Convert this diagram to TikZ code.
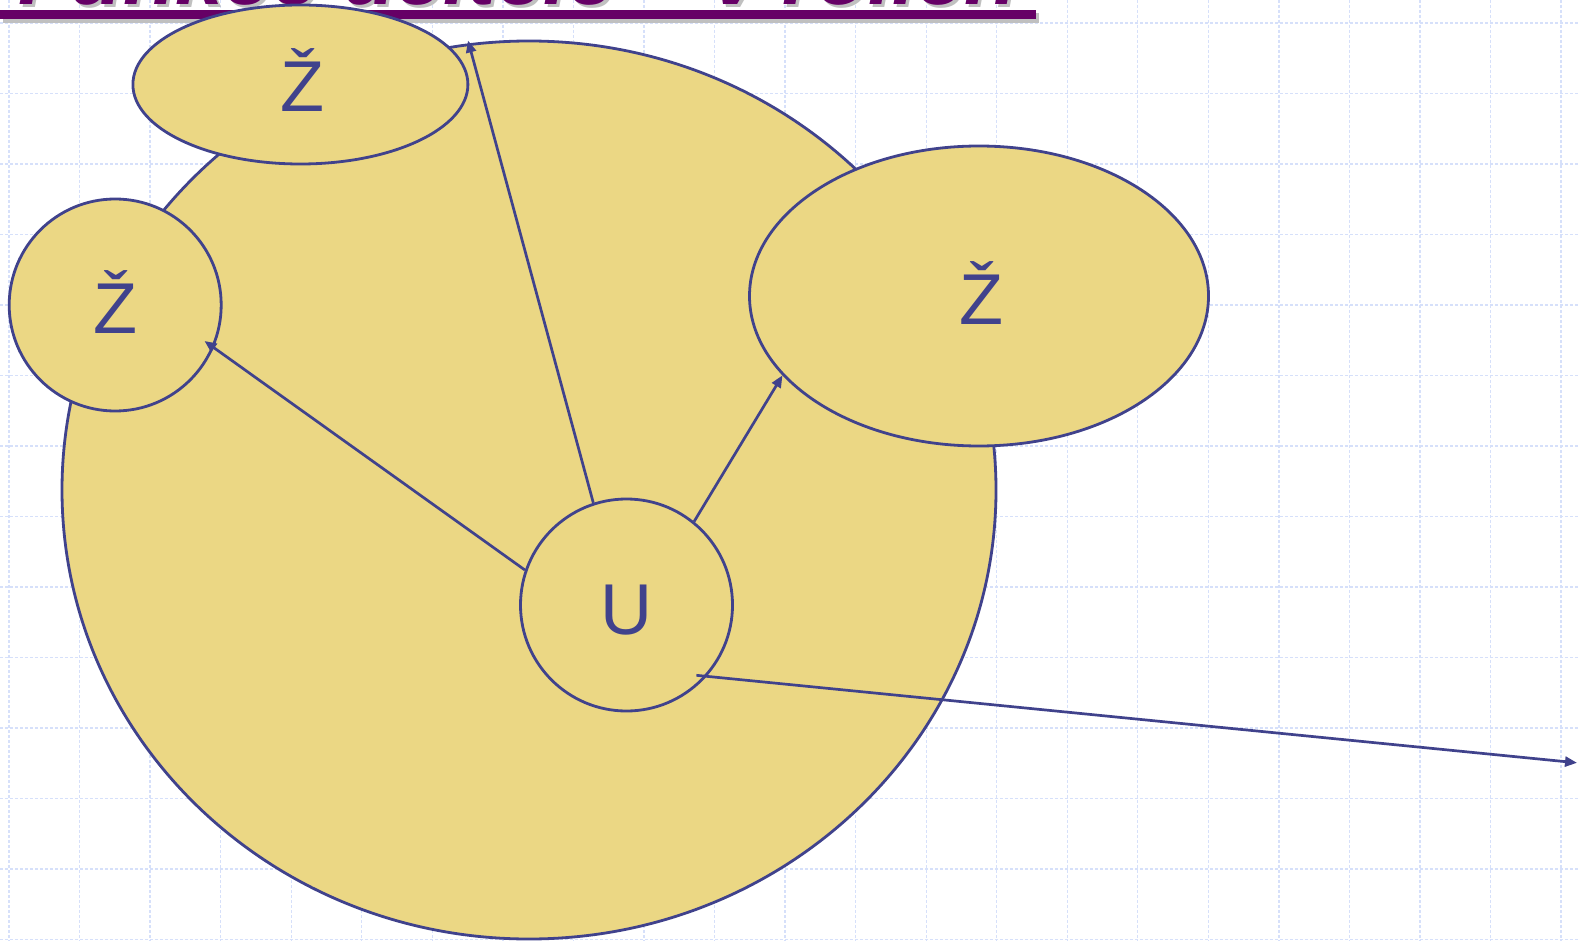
\documentclass[tikz,border=0pt]{standalone}
\usepackage{fontspec}
\setmainfont{Liberation Sans}
\usetikzlibrary{shapes.geometric,arrows.meta}
\definecolor{lineblue}{RGB}{64,66,140}
\definecolor{fillyel}{RGB}{235,215,132}
\definecolor{gridblue}{RGB}{214,224,250}
\definecolor{titlepurple}{RGB}{102,0,102}
\definecolor{shadowgray}{RGB}{192,192,192}
\tikzset{
 blob/.style={ellipse, draw=lineblue, fill=fillyel, line width=2.8pt, inner sep=0pt},
 lbl/.style={anchor=base, text=lineblue, font=\fontsize{72}{72}\selectfont, inner sep=0pt},
 conn/.style={draw=lineblue, line width=2.7pt, -{Triangle[length=12pt,width=10pt]}},
 gridline/.style={draw=gridblue, line width=1.3pt, dash pattern=on 3pt off 2pt},
 titletext/.style={anchor=base west, inner sep=0pt, font=\fontsize{86}{86}\selectfont\bfseries\itshape},
}
\begin{document}
\begin{tikzpicture}[x=1pt,y=-1pt]
\useasboundingbox (0,0) rectangle (1578,941);
\clip (0,0) rectangle (1578,941);
\fill[white] (0,0) rectangle (1578,941);
\foreach \i in {0,...,22} { \draw[gridline] ({9+70.55*\i},0) -- ({9+70.55*\i},941); }
\foreach \j in {0,...,13} { \draw[gridline] (0,{23+70.5*\j}) -- (1578,{23+70.5*\j}); }
% title
\fill[shadowgray] (3,13) rectangle (1039,23);
\fill[titlepurple] (0,10) rectangle (1036,19.5);
\node[titletext, text=shadowgray] (titleshadow) at (21,7.5) {Funkce učitele – v rolích};
\node[titletext, text=titlepurple] (title) at (18,5) {Funkce učitele – v rolích};
% shapes
\node[blob, minimum width=934pt, minimum height=898pt] (big) at (529,490) {};
\node[blob, minimum width=335pt, minimum height=159pt] (top) at (300.4,84.5) {};
\node[blob, minimum width=212pt, minimum height=212pt] (left) at (115.2,305) {};
\node[blob, minimum width=459pt, minimum height=300pt] (right) at (979,296) {};
\node[blob, minimum width=212pt, minimum height=212pt] (U) at (626.5,605) {};
% labels
\node[lbl] (topZ) at (302,112) {Ž};
\node[lbl] (leftZ) at (115,333) {Ž};
\node[lbl] (rightZ) at (981,324) {Ž};
\node[lbl] (Ulbl) at (626.7,634) {U};
% connectors
\coordinate (t1) at (468,40.5);
\coordinate (t2) at (204.5,341);
\coordinate (s4) at (696.4,675.3);
\coordinate (t4) at (1577,762.8);
\draw[conn] (U.108) -- (t1);
\draw[conn] (U.161) -- (t2);
\draw[conn] (U.51) -- (right.202.5);
\draw[conn] (s4) -- (t4);
\end{tikzpicture}
\end{document}
